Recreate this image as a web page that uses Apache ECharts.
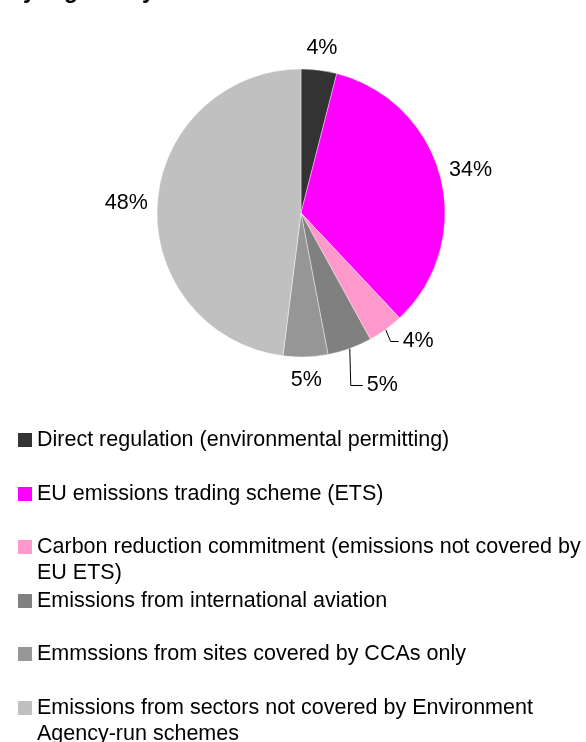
<!DOCTYPE html>
<html>
<head>
<meta charset="utf-8">
<script src="https://cdn.jsdelivr.net/npm/echarts@6/dist/echarts.min.js"></script>
<style>
  html, body { margin: 0; padding: 0; background: #fff; }
  #chart { width: 586px; height: 742px; }
</style>
</head>
<body>
<div id="chart"></div>
<script>
// Share of emissions by regulatory route (percent), clockwise from 12 o'clock
const categories = [
  'Direct regulation (environmental permitting)',
  'EU emissions trading scheme (ETS)',
  'Carbon reduction commitment (emissions not covered by\nEU ETS)',
  'Emissions from international aviation',
  'Emmssions from sites covered by CCAs only',
  'Emissions from sectors not covered by Environment\nAgency-run schemes'
];
const shares = [4, 34, 4, 5, 5, 48];
const sliceColors = ['#333333', '#FF00FF', '#FF99CC', '#808080', '#969696', '#C0C0C0'];

const FONT = '"Liberation Sans", Arial, sans-serif';
const PIE_CENTER = [301, 213];
const PIE_RADIUS = 144;

// how each percentage label sits next to its slice
const labelPlacement = [
  { gap: 23 },
  { gap: 31 },
  { leader: [5, 12, 8] },
  { leader: [1, 37, 12] },
  { gap: 22 },
  { gap: 31 }
];
// vertical position of each legend entry
const legendTops = [427, 481, 508, 588, 641, 669];

const total = shares.reduce((a, b) => a + b, 0);
const midAngles = [];
let acc = 0;
shares.forEach(v => { midAngles.push((acc + v / 2) / total * 2 * Math.PI); acc += v; });

const pieData = categories.map((name, i) => ({
  name,
  value: shares[i],
  itemStyle: { color: sliceColors[i] },
  labelLine: { show: !!labelPlacement[i].leader }
}));

const legends = categories.map((name, i) => {
  const twoLines = name.indexOf('\n') >= 0;
  return {
    orient: 'vertical',
    left: 18,
    top: legendTops[i],
    data: [name],
    icon: 'rect',
    itemWidth: 14,
    itemHeight: 14,
    itemStyle: { borderWidth: 0 },
    selectedMode: false,
    padding: 0,
    // a leading blank line keeps the swatch level with the first line of wrapped names
    formatter: n => (twoLines ? '\n' + n : n),
    textStyle: {
      color: '#000',
      fontFamily: FONT,
      fontSize: 21.5,
      lineHeight: 26
    }
  };
});

const chart = echarts.init(document.getElementById('chart'), null, { renderer: 'canvas' });
chart.setOption({
  animation: false,
  backgroundColor: '#ffffff',
  title: {
    text: 'by regulatory',
    left: 9,
    top: -20,
    padding: 0,
    textStyle: { fontFamily: FONT, fontSize: 23, fontWeight: 'bold', color: '#000', lineHeight: 23 }
  },
  legend: legends,
  series: [{
    type: 'pie',
    center: PIE_CENTER,
    radius: PIE_RADIUS,
    startAngle: 90,
    clockwise: true,
    data: pieData,
    itemStyle: { borderColor: '#ffffff', borderWidth: 0.4 },
    label: {
      show: true,
      position: 'outside',
      formatter: '{c}%',
      color: '#000',
      fontFamily: FONT,
      fontSize: 21.5
    },
    labelLine: { lineStyle: { color: '#000', width: 1 } },
    emphasis: { disabled: true },
    labelLayout: function (params) {
      const i = params.dataIndex;
      const a = midAngles[i];
      const sx = Math.sin(a), sy = -Math.cos(a);
      const p = labelPlacement[i];
      if (p.leader) {
        const ex = PIE_CENTER[0] + PIE_RADIUS * sx;
        const ey = PIE_CENTER[1] + PIE_RADIUS * sy;
        const kx = ex + p.leader[0], ky = ey + p.leader[1];
        const tx = kx + p.leader[2];
        return {
          x: tx + 4, y: ky, align: 'left', verticalAlign: 'middle',
          labelLinePoints: [[ex, ey], [kx, ky], [tx, ky]]
        };
      }
      const d = PIE_RADIUS + p.gap;
      return {
        x: PIE_CENTER[0] + d * sx,
        y: PIE_CENTER[1] + d * sy + 1,
        align: 'center',
        verticalAlign: 'middle'
      };
    }
  }]
});
</script>
</body>
</html>
